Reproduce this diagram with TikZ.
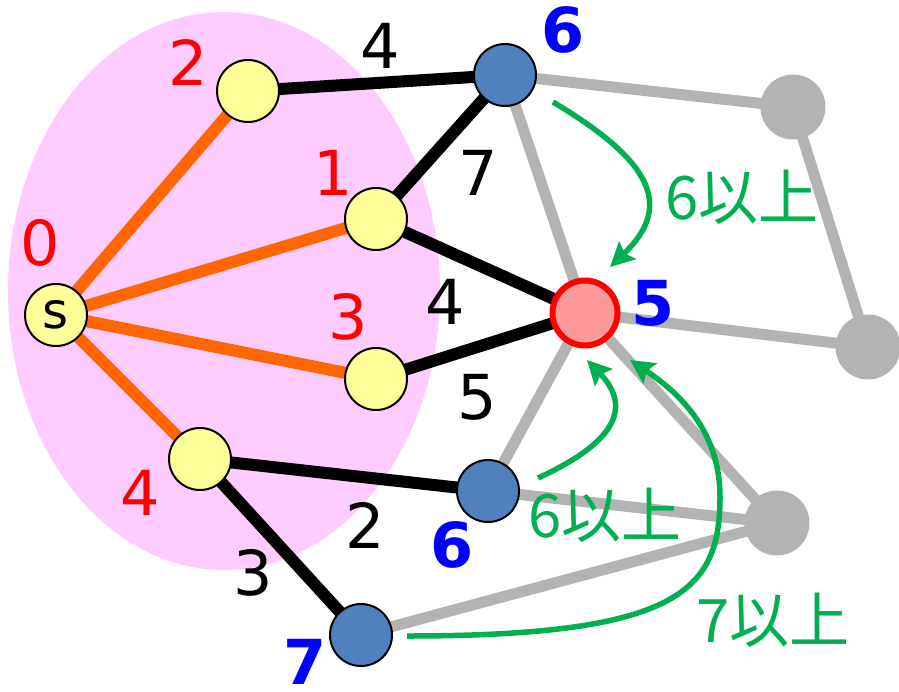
\documentclass[tikz,border=0pt]{standalone}
\usepackage{fontspec}
\setmainfont{DejaVu Sans}
\newfontfamily\jpfont{Noto Sans CJK JP}
\usetikzlibrary{arrows.meta}

\definecolor{areapink}{HTML}{FFCCFF}
\definecolor{treeorange}{HTML}{FF6600}
\definecolor{edgegray}{HTML}{B3B3B3}
\definecolor{nodeyellow}{HTML}{FFFF99}
\definecolor{nodeblue}{HTML}{4F81BD}
\definecolor{nodered}{HTML}{FF9999}
\definecolor{labelgreen}{HTML}{00B050}

\pgfdeclarelayer{area}
\pgfdeclarelayer{edges}
\pgfsetlayers{area,edges,main}

\begin{document}
\begin{tikzpicture}[x=1pt,y=-1pt,
  bigtext/.style={font=\fontsize{62}{62}\selectfont, inner sep=0pt},
  yelnode/.style={circle, draw=black, line width=2pt, fill=nodeyellow, minimum size=62pt, inner sep=0pt},
  bluenode/.style={circle, draw=black, line width=2pt, fill=nodeblue, minimum size=62pt, inner sep=0pt},
  graynode/.style={circle, fill=edgegray, minimum size=65pt, inner sep=0pt},
  rednode/.style={circle, draw=red, line width=6pt, fill=nodered, minimum size=65pt, inner sep=0pt},
  treeedge/.style={treeorange, line width=12pt},
  blackedge/.style={black, line width=12pt},
  grayedge/.style={edgegray, line width=11pt},
  dist/.style={bigtext, text=red},
  weight/.style={bigtext, text=black},
  newdist/.style={bigtext, text=blue, font=\fontsize{62}{62}\selectfont\bfseries},
  bound/.style={inner sep=0pt, text=labelgreen, font=\fontsize{60}{60}\selectfont\jpfont},
  greenarrow/.style={labelgreen, line width=5.5pt, -{Stealth[length=24pt, width=24pt, inset=4pt]}}
]
\useasboundingbox (0,0) rectangle (899,691);

% settled region
\begin{pgfonlayer}{area}
  \fill[areapink] (224,291) ellipse [x radius=216pt, y radius=279pt];
\end{pgfonlayer}

% vertices
\node[yelnode] (s)  at (56,315)  {\fontsize{50}{50}\selectfont s};
\node[yelnode] (y2) at (248,91)  {};
\node[yelnode] (y1) at (376,219) {};
\node[yelnode] (y3) at (376,379) {};
\node[yelnode] (y4) at (200,459) {};
\node[bluenode] (b6t) at (505,75)  {};
\node[bluenode] (b6b) at (488,491) {};
\node[bluenode] (b7)  at (361,635) {};
\node[rednode] (r5) at (585,313) {};
\node[graynode] (gtr) at (793,107) {};
\node[graynode] (gr)  at (868,347) {};
\node[graynode] (gb)  at (777,523) {};

% edges
\begin{pgfonlayer}{edges}
  \draw[grayedge] (b6t.center) -- (gtr.center);
  \draw[grayedge] (gtr.center) -- (gr.center);
  \draw[grayedge] (b6t.center) -- (r5.center);
  \draw[grayedge] (r5.center) -- (gr.center);
  \draw[grayedge] (r5.center) -- (b6b.center);
  \draw[grayedge] (r5.center) -- (gb.center);
  \draw[grayedge] (b6b.center) -- (gb.center);
  \draw[grayedge] (b7.center) -- (gb.center);
  \draw[treeedge] (s.center) -- (y2.center);
  \draw[treeedge] (s.center) -- (y1.center);
  \draw[treeedge] (s.center) -- (y3.center);
  \draw[treeedge] (s.center) -- (y4.center);
  \draw[blackedge] (y2.center) -- (b6t.center);
  \draw[blackedge] (b6t.center) -- (y1.center);
  \draw[blackedge] (y1.center) -- (r5.center);
  \draw[blackedge] (y3.center) -- (r5.center);
  \draw[blackedge] (y4.center) -- (b6b.center);
  \draw[blackedge] (y4.center) -- (b7.center);
\end{pgfonlayer}

% settled distances
\node[dist] (d0) at (40,243)  {0};
\node[dist] (d2) at (188,62)  {2};
\node[dist] (d1) at (333,173) {1};
\node[dist] (d3) at (348,317) {3};
\node[dist] (d4) at (140,493) {4};

% edge weights
\node[weight] (w1) at (380,46)  {4};
\node[weight] (w2) at (478,173) {7};
\node[weight] (w3) at (445,302) {4};
\node[weight] (w4) at (477,397) {5};
\node[weight] (w5) at (365,525) {2};
\node[weight] (w6) at (253,573) {3};

% tentative distances
\node[newdist] (t6a) at (563,30)  {6};
\node[newdist] (t5)  at (653,303) {5};
\node[newdist] (t6b) at (452,545) {6};
\node[newdist] (t7)  at (305,662) {7};

% lower bounds via other frontier vertices
\node[bound] (l1) at (742,197) {6以上};
\node[bound] (l2) at (605,515) {6以上};
\node[bound] (l3) at (773,620) {7以上};

\coordinate (a1s) at (553,102);
\coordinate (a1e) at (610,267);
\coordinate (a2s) at (538,478);
\coordinate (a2e) at (587,360);
\coordinate (a3s) at (407,636);
\coordinate (a3m) at (720,497);
\coordinate (a3e) at (630,360);

\draw[greenarrow] (a1s) .. controls (650,160) and (675,205) .. (a1e);
\draw[greenarrow] (a2s) .. controls (610,445) and (635,410) .. (a2e);
\draw[greenarrow] (a3s) .. controls (680,636) and (720,590) .. (a3m)
  .. controls (720,440) and (690,400) .. (a3e);
\end{tikzpicture}
\end{document}
